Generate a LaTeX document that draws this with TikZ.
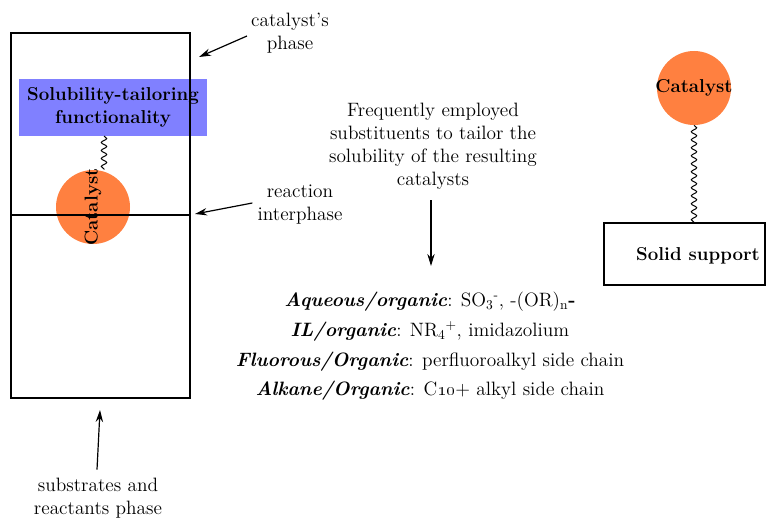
\documentclass[tikz,border=0pt]{standalone}
\usetikzlibrary{arrows.meta,decorations.pathmorphing}
\begin{document}
\begin{tikzpicture}[x=0.75pt,y=0.75pt,yscale=-1,xscale=1,
    txt/.style={align=center, inner sep=0pt, font=\fontsize{14.5}{17.25}\selectfont},
    boldtxt/.style={align=center, inner sep=0pt, font=\fontsize{14}{17.25}\selectfont\bfseries},
    catball/.style={circle, inner sep=0pt, minimum size=55.5pt, fill={rgb, 255:red, 255; green, 128; blue, 64 }},
    pointer/.style={line width=0.9pt, -{Stealth[length=9pt,width=5.5pt]}},
    linker/.style={line width=0.75pt, decorate, decoration={snake, amplitude=2pt, segment length=6pt}}
    ]
    \useasboundingbox (0,0) rectangle (766,517);
    
    %Shape: Rectangle [tailoring box]
    \fill [fill={rgb, 255:red, 128; green, 128; blue, 255 }  ,fill opacity=1 ] (19,79) rectangle (207,136) ;
    %Shape: Rectangle [two phases]
    \draw [line width=0.9pt] (11,33) rectangle (190,398) ;
    %Shape: Circle
    \node [catball] (cat1) at (93,207) {};
    %Straight Lines [interphase]
    \draw [line width=1.8pt] (11,215) -- (190,215) ;
    % Text Node
    \node [boldtxt, rotate=90] (cat1lbl) at (93,207) {Catalyst};
    % Text Node
    \node [boldtxt] (tailor) at (113,107) {Solubility-tailoring\\functionality};
    %Curve Lines [linker]
    \coordinate (tailfoot) at (104,136);
    \draw [linker] (tailfoot) -- (tailfoot |- cat1.north) ;
    
    % Text Node
    \node [txt] (phase) at (290,33) {catalyst's\\phase};
    \coordinate (phasept) at (199,57);
    \draw [pointer] ([shift={(-4,3)}]phase.west) -- (phasept) ;
    % Text Node
    \node [txt] (interph) at (300,205) {reaction\\interphase};
    \coordinate (interpt) at (195,214);
    \draw [pointer] ([shift={(-5,-2)}]interph.west) -- (interpt) ;
    % Text Node
    \node [txt] (reactph) at (98,498) {substrates and\\reactants phase};
    \coordinate (reactpt) at (100,410);
    \draw [pointer] ([shift={(-1,-8)}]reactph.north) -- (reactpt) ;
    
    % Text Node
    \node [txt] (freq) at (433,146) {Frequently employed\\substituents to tailor the\\solubility of the resulting\\catalysts};
    \coordinate (subspt) at (431,266);
    \draw [pointer] ([shift={(-2,11)}]freq.south) -- (subspt) ;
    % Text Node
    \node [txt, font=\fontsize{14.5}{22.3}\selectfont] (subs) at (430,346.5) {%
      \textbf{\textit{Aqueous/organic}}: SO\textsubscript{3}\textsuperscript{-}, -(OR)\textsubscript{n}\textbf{-}\\
      \textbf{\textit{IL/organic}}: NR\textsubscript{4}\textsuperscript{+}, imidazolium\\
      \textbf{\textit{Fluorous/Organic}}: perfluoroalkyl side chain\\
      \textbf{\textit{Alkane/Organic}}: C\oldstylenums{10}+ alkyl side chain};
    
    %Shape: Circle
    \node [catball] (cat2) at (694,88) {};
    \node [boldtxt] (cat2lbl) at (cat2) {Catalyst};
    %Shape: Rectangle [support]
    \draw [line width=0.9pt] (604,223) rectangle (765,285) ;
    \node [boldtxt] (support) at (698,256) {Solid support};
    %Curve Lines [linker]
    \coordinate (supptop) at (694,223);
    \draw [linker] (cat2.south) -- (supptop) ;
    
\end{tikzpicture}
\end{document}
